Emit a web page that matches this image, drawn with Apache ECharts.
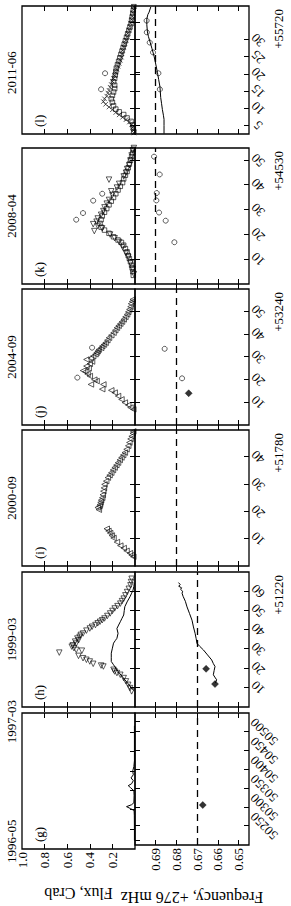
<!DOCTYPE html>
<html><head><meta charset="utf-8">
<script src="https://cdn.jsdelivr.net/npm/echarts@6/dist/echarts.min.js"></script>
<style>
html,body{margin:0;padding:0;background:#fff;overflow:hidden;width:291px;height:906px;}
#chart{position:absolute;left:0;top:0;width:906px;height:291px;transform-origin:0 0;transform:translate(0px,906px) rotate(-90deg);}
</style></head><body><div id="chart"></div>
<script>
// ---------------- DATA ----------------
const panelKeys = ['g','h','i','j','k','l'];
const panelTags = ['(g)','(h)','(i)','(j)','(k)','(l)'];
const mjdRanges = [[50200,50550],[0,70],[0,50],[0,60],[0,55],[2.5,40]];
const mjdBases = [null,51220,51780,53240,54530,55720];
const gMjdTicks = [50250,50300,50350,50400,50450,50500];
const hMjdTicks = [10,20,30,40,50,60];
const iMjdTicks = [10,20,30,40];
const jMjdTicks = [10,20,30,40,50];
const kMjdTicks = [10,20,30,40,50];
const lMjdTicks = [5,10,15,20,25,30,35];
const gDateVals = [50220,50528], gDateNames = ['1996-05','1997-03'];
const hDateVals = [35], hDateNames = ['1999-03'];
const iDateVals = [25], iDateNames = ['2000-09'];
const jDateVals = [30], jDateNames = ['2004-09'];
const kDateVals = [27.5], kDateNames = ['2008-04'];
const lDateVals = [20.5], lDateNames = ['2011-06'];
const fluxTicks = [0.2,0.4,0.6,0.8];
const fluxLabels = [0.2,0.4,0.6,0.8,1.0];
const freqTicks = [0.65,0.66,0.67,0.68,0.69];
const dashLevels = [0.67,0.67,0.6776,0.6776,0.6856,0.6862];

// panel g (MJD, value)
const gFluxLine = [[50222,0.005],[50247,0.005],[50286,0.006],[50299,0.008],[50304,0.04],[50309,0.075],[50314,0.03],[50319,0.01],[50337,0.008],[50350,0.01],[50358,0.04],[50363,0.06],[50368,0.03],[50376,0.015],[50383,0.035],[50391,0.015],[50401,0.02],[50412,0.01],[50427,0.005],[50478,0.005],[50517,0.005]];
const gFreqDiamond = [[50306,0.6673]];
// panel h (day offset, value)
const hFluxTri = [[8.1,0.03],[9.8,0.044],[11.5,0.06],[13.3,0.08],[15,0.10],[16.7,0.13],[17.6,0.16],[18.4,0.18],[19.3,0.19],[21,0.28],[21.5,0.30],[22.4,0.37],[23.6,0.40],[24.5,0.43],[25.3,0.46],[26.5,0.50],[28.2,0.67],[29.2,0.47],[29.6,0.52],[30.5,0.54],[31.3,0.56],[32,0.55],[32.9,0.52],[33.9,0.53],[34.6,0.50],[35.5,0.51],[36.4,0.49],[37.4,0.48],[38.1,0.46],[39.6,0.43],[40.7,0.40],[41.6,0.38],[42.5,0.35],[43.4,0.33],[44.2,0.31],[45,0.29],[45.9,0.27],[47.2,0.245],[48.5,0.22],[49.8,0.20],[51.1,0.18],[52.3,0.155],[53.6,0.13],[54.9,0.115],[56.2,0.10],[57.9,0.085],[59.6,0.07],[61.3,0.055],[63.1,0.04],[64.8,0.035],[66.5,0.03]];
const hFluxLine = [[8.5,0.01],[9.8,0.03],[12,0.06],[14.1,0.09],[16.3,0.12],[18.4,0.15],[20.2,0.17],[21.9,0.19],[23.6,0.21],[25.8,0.21],[27.9,0.21],[30.5,0.20],[33.1,0.19],[34.4,0.175],[35.6,0.16],[38.2,0.15],[40.7,0.16],[42.5,0.145],[44.2,0.13],[46,0.115],[47.7,0.10],[50,0.095],[52,0.09],[54.5,0.07],[57.2,0.044],[59,0.03],[60.5,0.018],[62.5,0.01],[64.2,0.006]];
const hFreqLine = [[12.5,0.6612],[14.1,0.6606],[15.5,0.6615],[16.7,0.6622],[19,0.6618],[21,0.6614],[22.5,0.6622],[24.4,0.6630],[27,0.6650],[29.6,0.6670],[31.5,0.6688],[33,0.6701],[35.5,0.6705],[38.2,0.6710],[41.5,0.6718],[45,0.6725],[48.5,0.6737],[51.9,0.6749],[54.8,0.6757],[57.4,0.6768],[59,0.6773],[60,0.6770],[61,0.6780],[61.8,0.6775],[62.6,0.6789],[63.5,0.6782],[64.5,0.6790]];
const hFreqDiamond = [[11.9,0.6614],[19.8,0.6657]];
// panel i
const iFluxTri = [[3.4,0.015],[4.0,0.03],[4.7,0.045],[5.6,0.075],[6.6,0.10],[7.5,0.13],[8.8,0.16],[10.3,0.19],[11.2,0.205],[12.1,0.22],[12.9,0.235],[13.7,0.25],[20.7,0.32],[21.5,0.33],[22.0,0.315],[22.6,0.31],[23.4,0.305],[24.2,0.30],[25.1,0.29],[26.2,0.285],[27.5,0.28],[28.7,0.275],[30,0.27],[31.2,0.255],[32.5,0.24],[33.4,0.225],[34.3,0.21],[35.3,0.195],[36.2,0.18],[37.1,0.165],[38,0.15],[39,0.135],[39.9,0.12],[40.8,0.105],[41.7,0.09],[42.9,0.075],[44.2,0.06],[45.4,0.05],[46.7,0.04],[47.7,0.03],[48.8,0.02],[49.5,0.015]];
// panel j
const jFluxTri = [[6.9,0.015],[7.7,0.04],[8.8,0.06],[9.9,0.09],[11.3,0.12],[12.8,0.15],[14.3,0.18],[15.3,0.21],[15.8,0.29],[17.9,0.28],[17.9,0.39],[19.4,0.34],[20,0.36],[21.6,0.40],[22.5,0.42],[23.5,0.44],[24,0.46],[25,0.41],[26,0.43],[27,0.40],[28,0.38],[28.9,0.43],[29.5,0.39],[30.4,0.37],[31.2,0.35],[31.9,0.34],[32.6,0.33],[33.3,0.32],[34,0.30],[34.8,0.29],[35.5,0.275],[36.3,0.26],[37.4,0.245],[38.5,0.23],[39.6,0.21],[40.7,0.19],[41.8,0.175],[42.9,0.16],[43.8,0.145],[44.7,0.13],[45.6,0.115],[46.6,0.10],[47.7,0.085],[48.8,0.07],[49.9,0.06],[51,0.05],[52.2,0.04],[53.5,0.035],[54.5,0.025],[55.4,0.02]];
const jFluxCircle = [[20.9,0.51],[34.1,0.38]];
const jFreqCircle = [[20.6,0.6773],[33.6,0.6857]];
const jFreqDiamond = [[14,0.6741]];
// panel k
const kFluxSquare = [[3.5,0.015],[5,0.02],[6.5,0.025],[7.6,0.03],[9,0.04],[10.3,0.05],[11.5,0.06],[13,0.07],[14.3,0.085],[15.7,0.10],[16.8,0.12],[17.8,0.15],[19.1,0.19],[20.5,0.23],[21.8,0.27],[23,0.30],[24.5,0.31],[26,0.30],[27.5,0.29],[29,0.27],[30.5,0.25],[32,0.23],[33.5,0.21],[35,0.19],[36.5,0.17],[38,0.15],[39.5,0.13],[41,0.11],[42.5,0.10],[44,0.085],[45.5,0.07],[47,0.06],[48.5,0.05],[50,0.04],[51.5,0.03],[53,0.02],[54.5,0.015]];
const kFluxTri = [[4,0.01],[6,0.02],[8.5,0.04],[11,0.06],[12.5,0.08],[15,0.11],[17,0.14],[18.5,0.18],[20,0.22],[21.4,0.36],[22.5,0.29],[23.5,0.33],[24.2,0.37],[25.2,0.34],[26.5,0.33],[28,0.30],[29.5,0.28],[31,0.27],[32.5,0.25],[34,0.23],[36,0.20],[37.5,0.21],[39,0.16],[40.5,0.14],[42.2,0.23],[43.5,0.10],[45,0.08],[46.5,0.07],[48,0.05],[50,0.04],[52,0.03],[54,0.02],[55,0.01]];
const kFluxCircle = [[26,0.52],[28.7,0.46],[33.7,0.37],[36.5,0.29]];
const kFreqCircle = [[16.9,0.6810],[25.6,0.6852],[28.9,0.6884],[33.8,0.6897],[36.8,0.6895],[44.3,0.6881],[51.5,0.6908]];
// panel l
const lFluxCross = [[2.8,0.01],[3.6,0.015],[4.4,0.02],[5.2,0.03],[6.0,0.05],[6.7,0.08],[7.4,0.11],[8.1,0.14],[8.8,0.17],[9.6,0.20],[10.4,0.23],[11.2,0.26],[12.0,0.28],[12.8,0.27],[13.6,0.25],[14.5,0.24],[15.3,0.23],[16.2,0.22],[17.0,0.21],[17.9,0.20],[18.8,0.19],[19.6,0.18],[20.5,0.17],[21.4,0.16],[22.3,0.15],[23.2,0.14],[24.1,0.13],[25.0,0.12],[26.0,0.115],[27.0,0.11],[28.0,0.10],[29.0,0.09],[30.0,0.08],[31.0,0.07],[32.0,0.065],[33.0,0.055],[34.0,0.045],[35.0,0.04],[36.0,0.03],[37.0,0.025],[38.0,0.02],[39.0,0.015],[39.8,0.01]];
const lFluxSquare = [[3.2,0.01],[4.2,0.015],[5.2,0.02],[6.2,0.035],[7.2,0.07],[8.2,0.10],[9.0,0.14],[9.8,0.17],[10.8,0.19],[11.8,0.20],[12.8,0.21],[13.8,0.20],[14.8,0.19],[15.8,0.18],[16.8,0.18],[17.8,0.19],[18.8,0.18],[19.8,0.175],[20.8,0.17],[21.8,0.165],[22.8,0.155],[23.8,0.145],[24.8,0.135],[25.8,0.125],[26.8,0.115],[27.8,0.105],[28.8,0.095],[29.8,0.085],[30.8,0.075],[31.8,0.065],[32.8,0.055],[33.8,0.045],[34.8,0.035],[35.8,0.03],[36.8,0.025],[37.8,0.02],[38.8,0.015],[39.8,0.01]];
const lFluxCircle = [[15.6,0.30],[20.3,0.265]];
const lFreqLine = [[2.6,0.6860],[5,0.6860],[6.8,0.6860],[8,0.6863],[9.7,0.6868],[11.5,0.6872],[13.2,0.6876],[15,0.6878],[16.5,0.6880],[18.5,0.6886],[20.6,0.6892],[23,0.6900],[25.3,0.6908],[27.5,0.6918],[29.4,0.6927],[31,0.6935],[32.4,0.6940],[34.5,0.6943],[36.2,0.6943],[37.5,0.6938],[38.2,0.6932],[39.7,0.6924]];
const lFreqCircle = [[15.6,0.6880],[20.3,0.6887],[26.4,0.6913],[29.3,0.6929],[32.3,0.6943],[35.7,0.6944]];

// ---------------- LAYOUT / STYLE ----------------
const FONT = 'Liberation Serif';
const panelLeft = [57,199,340,481,622,772];
const panelWidth = [136,135,136,136,136,128];
const mjdLabelMargin = [15,9,9,9,9,9];
const fluxTop = 22, fluxH = 113, freqTop = 135, freqH = 114;
const tickLen = 5;

const mjdTicks = [gMjdTicks,hMjdTicks,iMjdTicks,jMjdTicks,kMjdTicks,lMjdTicks];
const dateVals = [gDateVals,hDateVals,iDateVals,jDateVals,kDateVals,lDateVals];
const dateNames = [gDateNames,hDateNames,iDateNames,jDateNames,kDateNames,lDateNames];

const hollow = {color:'rgba(255,255,255,0)', borderColor:'#000', borderWidth:0.8};
const SYM = {
  circle: {symbol:'circle', symbolSize:5, itemStyle:hollow},
  square: {symbol:'rect', symbolSize:4.5, itemStyle:hollow},
  triUp: {symbol:'triangle', symbolSize:5.5, symbolRotate:0, itemStyle:hollow},
  triLeft: {symbol:'triangle', symbolSize:5.5, symbolRotate:90, itemStyle:hollow},
  cross: {symbol:'path://M0,0L10,10M10,0L0,10', symbolSize:4.5, itemStyle:hollow},
  diamond: {symbol:'diamond', symbolSize:7, itemStyle:{color:'#000', borderColor:'#000', borderWidth:0.5}}
};

const panelSeries = [
  [['flux','line',gFluxLine],['freq','diamond',gFreqDiamond]],
  [['flux','triLeft',hFluxTri],['flux','line',hFluxLine],['freq','line',hFreqLine],['freq','diamond',hFreqDiamond]],
  [['flux','triUp',iFluxTri]],
  [['flux','triUp',jFluxTri],['flux','circle',jFluxCircle],['freq','circle',jFreqCircle],['freq','diamond',jFreqDiamond]],
  [['flux','square',kFluxSquare],['flux','triLeft',kFluxTri],['flux','circle',kFluxCircle],['freq','circle',kFreqCircle]],
  [['flux','cross',lFluxCross],['flux','square',lFluxSquare],['flux','circle',lFluxCircle],['freq','line',lFreqLine],['freq','circle',lFreqCircle]]
];

const txt = {fontFamily:FONT, fontSize:13, color:'#000'};
const grids = [], xAxes = [], yAxes = [], series = [], graphics = [];
const tickStyle = {color:'#000', width:1};

panelKeys.forEach((key, p) => {
  const L = panelLeft[p], W = panelWidth[p];
  const [mn, mx] = mjdRanges[p];
  grids.push({left:L, top:fluxTop, width:W, height:fluxH, show:true, borderColor:'#000', borderWidth:1.3, backgroundColor:'transparent'});
  grids.push({left:L, top:freqTop, width:W, height:freqH, show:true, borderColor:'#000', borderWidth:1.3, backgroundColor:'transparent'});
  const g0 = 2*p, g1 = 2*p+1;
  const baseX = {type:'value', min:mn, max:mx, axisLine:{show:false}, splitLine:{show:false}};
  xAxes.push(Object.assign({}, baseX, {gridIndex:g0, position:'bottom',
    axisTick:{inside:true, length:tickLen, customValues:mjdTicks[p], lineStyle:tickStyle},
    axisLabel:{show:false}}));
  const dv = dateVals[p], dn = dateNames[p];
  xAxes.push(Object.assign({}, baseX, {gridIndex:g0, position:'top',
    axisTick:{inside:true, length:tickLen, customValues:dv, lineStyle:tickStyle},
    axisLabel:Object.assign({customValues:dv, margin:4, formatter:(v)=>{const k=dv.indexOf(v); return k>=0?dn[k]:'';}}, txt)}));
  xAxes.push(Object.assign({}, baseX, {gridIndex:g1, position:'top',
    axisTick:{inside:true, length:tickLen, customValues:mjdTicks[p], lineStyle:tickStyle},
    axisLabel:{show:false}}));
  const bx = Object.assign({}, baseX, {gridIndex:g1, position:'bottom',
    axisTick:{inside:true, length:tickLen, customValues:mjdTicks[p], lineStyle:tickStyle},
    axisLabel:Object.assign({customValues:mjdTicks[p], rotate:45, align:'center', verticalAlign:'middle',
      margin:mjdLabelMargin[p], formatter:(v)=>String(v)}, txt)});
  if (mjdBases[p] !== null) {
    bx.name = '+' + mjdBases[p];
    bx.nameLocation = 'end';
    bx.nameGap = -3;
    bx.nameTextStyle = Object.assign({align:'right', verticalAlign:'top', padding:[23,0,0,0]}, txt);
  }
  xAxes.push(bx);
  const first = (p === 0);
  yAxes.push({type:'value', gridIndex:g0, position:'left', min:0, max:1, axisLine:{show:false}, splitLine:{show:false},
    axisTick:{inside:true, length:tickLen, customValues:fluxTicks, lineStyle:tickStyle},
    axisLabel:Object.assign({show:first, customValues:fluxLabels, margin:3, formatter:(v)=>v.toFixed(1)}, txt),
    name: first ? 'Flux, Crab' : '', nameLocation:'middle', nameGap:36, nameRotate:90,
    nameTextStyle:Object.assign({}, txt, {fontSize:16})});
  yAxes.push({type:'value', gridIndex:g0, position:'right', min:0, max:1, axisLine:{show:false}, splitLine:{show:false},
    axisTick:{inside:true, length:tickLen, customValues:fluxTicks, lineStyle:tickStyle},
    axisLabel:{show:false}});
  yAxes.push({type:'value', gridIndex:g1, position:'left', min:0.645, max:0.70, axisLine:{show:false}, splitLine:{show:false},
    axisTick:{inside:true, length:tickLen, customValues:freqTicks, lineStyle:tickStyle},
    axisLabel:Object.assign({show:first, customValues:freqTicks, margin:3, formatter:(v)=>v.toFixed(2)}, txt),
    name: first ? 'Frequency, +276 mHz' : '', nameLocation:'middle', nameGap:44, nameRotate:90,
    nameTextStyle:Object.assign({}, txt, {fontSize:16})});
  yAxes.push({type:'value', gridIndex:g1, position:'right', min:0.645, max:0.70, axisLine:{show:false}, splitLine:{show:false},
    axisTick:{inside:true, length:tickLen, customValues:freqTicks, lineStyle:tickStyle},
    axisLabel:{show:false}});

  const xa = {flux:4*p, freq:4*p+3}, ya = {flux:4*p, freq:4*p+2};
  panelSeries[p].forEach(([row, kind, data]) => {
    if (kind === 'line') {
      series.push({type:'line', data, xAxisIndex:xa[row], yAxisIndex:ya[row], showSymbol:false, symbol:'none',
        lineStyle:{color:'#000', width:1}, silent:true, z:3});
    } else {
      series.push(Object.assign({type:'scatter', data, xAxisIndex:xa[row], yAxisIndex:ya[row], silent:true, z:4}, SYM[kind]));
    }
  });
  series.push({type:'line', data:[], xAxisIndex:xa.freq, yAxisIndex:ya.freq, silent:true,
    markLine:{silent:true, symbol:['none','none'], label:{show:false},
      lineStyle:{color:'#000', width:1.3, type:[7,5]}, data:[{yAxis:dashLevels[p]}]}});
  graphics.push({type:'text', left:L+7, top:33, style:{text:panelTags[p], font:'13px "Liberation Serif"', fill:'#000'}});
});

const chart = echarts.init(document.getElementById('chart'), null, {renderer:'svg', width:906, height:291});
chart.setOption({animation:false, backgroundColor:'#fff', grid:grids, xAxis:xAxes, yAxis:yAxes, series, graphic:graphics});
</script></body></html>
